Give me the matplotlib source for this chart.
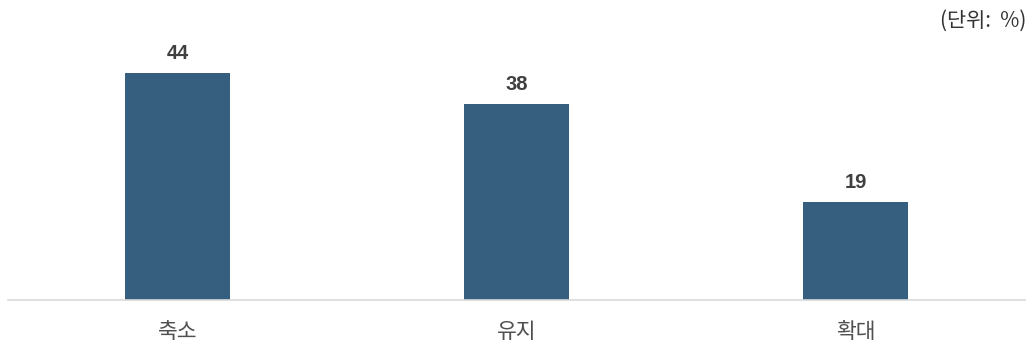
import matplotlib
matplotlib.use("Agg")
import matplotlib.pyplot as plt

plt.rcParams['font.family'] = ['Noto Sans CJK KR', 'DejaVu Sans']

categories = ["축소", "유지", "확대"]
values = [44, 38, 19]
unit_label = "(단위:  %)"

bar_color = "#365e7e"

fig = plt.figure(figsize=(10.29, 3.47), dpi=100)
ax = fig.add_axes([8 / 1029, 47 / 347, 1017 / 1029, 258 / 347])

x = range(len(categories))
bars = ax.bar(x, values, width=0.31, color=bar_color, zorder=2)

for rect, v in zip(bars, values):
    ax.annotate(f"{v}", xy=(rect.get_x() + rect.get_width() / 2, rect.get_height()),
                xytext=(0, 7.5), textcoords="offset points", ha="center", va="bottom",
                fontsize=14.5, fontweight="bold", color="#404040",
                family=['Liberation Sans', 'DejaVu Sans'])

ax.set_xlim(-0.5, len(categories) - 0.5)
ax.set_ylim(0, 50)
ax.set_xticks(list(x))
ax.set_xticklabels(categories, fontsize=15.5, color="#505050")
ax.tick_params(axis="x", length=0, pad=15)
ax.set_yticks([])

for side in ("top", "right", "left"):
    ax.spines[side].set_visible(False)
ax.spines["bottom"].set_color("#d9d9d9")
ax.spines["bottom"].set_linewidth(1.2)

fig.text(1026 / 1029, 1 - 21 / 347, unit_label, ha="right", va="center",
         fontsize=15, color="#333333")

fig.savefig("out.png", dpi=100, facecolor="white")
